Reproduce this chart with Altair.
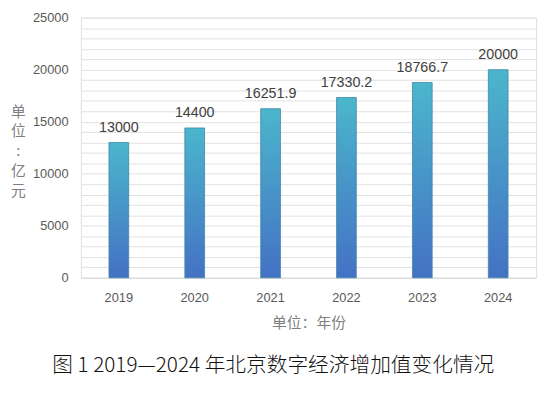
import altair as alt
import pandas as pd

years = ["2019", "2020", "2021", "2022", "2023", "2024"]
values = [13000, 14400, 16251.9, 17330.2, 18766.7, 20000]
labels = ["13000", "14400", "16251.9", "17330.2", "18766.7", "20000"]
y_ticks = [0, 1000, 2000, 3000, 4000, 5000, 6000, 7000, 8000, 9000, 10000,
           11000, 12000, 13000, 14000, 15000, 16000, 17000, 18000, 19000, 20000,
           21000, 22000, 23000, 24000, 25000]

df = pd.DataFrame({"year": years, "value": values, "label": labels})

FONT = "Liberation Sans"
CJK = "Noto Sans CJK SC"

x_enc = alt.X(
    "year:N",
    sort=years,
    scale=alt.Scale(paddingInner=0.74, paddingOuter=0.37),
    axis=alt.Axis(
        title="单位：年份",
        titleFont=CJK,
        titleFontSize=15,
        titleFontWeight="normal",
        titleColor="#7f7f7f",
        titlePadding=11,
        labelAngle=0,
        labelFont=FONT,
        labelFontSize=13,
        labelColor="#595959",
        labelPadding=14,
        ticks=False,
        domainColor="#d9d9d9",
        grid=False,
    ),
)

y_enc = alt.Y(
    "value:Q",
    scale=alt.Scale(domain=[0, 25000], nice=False, zero=True),
    axis=alt.Axis(
        values=y_ticks,
        labelExpr="datum.value % 5000 === 0 ? datum.label : ''",
        labelOverlap=False,
        labelBound=False,
        labelFlush=False,
        format="d",
        title=["单", "位", ":", "亿", "元"],
        titleAngle=0,
        titleAlign="center",
        titleBaseline="top",
        titleX=-64,
        titleY=88,
        titleLineHeight=20,
        titleFont=CJK,
        titleFontSize=15,
        titleFontWeight="normal",
        titleColor="#7f7f7f",
        labelFont=FONT,
        labelFontSize=13,
        labelColor="#595959",
        labelPadding=13,
        ticks=False,
        domain=False,
        grid=True,
        gridColor="#e2e2e2",
        gridWidth=1,
    ),
)

gradient = alt.Gradient(
    gradient="linear",
    stops=[
        alt.GradientStop(color="#4bb6cc", offset=0),
        alt.GradientStop(color="#4471c4", offset=1),
    ],
    x1=0, x2=0, y1=0, y2=1,
)

base = alt.Chart(df).encode(x=x_enc, y=y_enc)

bars = base.mark_bar(
    color=gradient, stroke="#3d86a6", strokeWidth=1, strokeOpacity=0.8
)

text = base.mark_text(
    baseline="bottom", dy=-8, font=FONT, fontSize=14.5, color="#404040"
).encode(text="label:N")

chart = (
    alt.layer(bars, text)
    .properties(
        width=462,
        height=264,
        autosize=alt.AutoSizeParams(type="none"),
        padding={"left": 74, "top": 7, "right": 8, "bottom": 106},
        title=alt.TitleParams(
            text="图 1 2019—2024 年北京数字经济增加值变化情况",
            orient="bottom",
            anchor="middle",
            frame="bounds",
            font=CJK,
            fontSize=21,
            fontWeight=300,
            color="#111111",
            offset=26,
        ),
    )
    .configure_view(stroke=None)
    .configure(background="white")
)

chart.save("out.html", embed_options={"renderer": "svg", "actions": False})
